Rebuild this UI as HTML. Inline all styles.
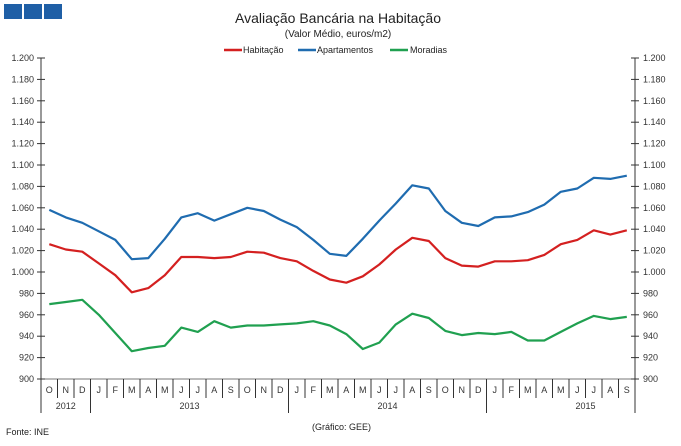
<!DOCTYPE html>
<html><head><meta charset="utf-8"><style>
body{margin:0;background:#fff;width:681px;height:446px;overflow:hidden}
svg{display:block;font-family:"Liberation Sans",sans-serif}
</style></head><body>
<svg id="s" width="681" height="446" viewBox="0 0 681 446">
<rect x="4" y="4" width="18" height="15" fill="#1f5fa6"/>
<rect x="24" y="4" width="18" height="15" fill="#1f5fa6"/>
<rect x="44" y="4" width="18" height="15" fill="#1f5fa6"/>
<text x="338" y="23" font-size="14" text-anchor="middle" fill="#222">Avaliação Bancária na Habitação</text>
<text x="338" y="37" font-size="10" text-anchor="middle" fill="#222">(Valor Médio, euros/m2)</text>
<line x1="224" y1="50" x2="242" y2="50" stroke="#d42020" stroke-width="2.5"/>
<text x="243" y="53" font-size="9" fill="#222">Habitação</text>
<line x1="298" y1="50" x2="316" y2="50" stroke="#1f6cb0" stroke-width="2.5"/>
<text x="317" y="53" font-size="9" fill="#222">Apartamentos</text>
<line x1="390" y1="50" x2="408" y2="50" stroke="#20a050" stroke-width="2.5"/>
<text x="410" y="53" font-size="9" fill="#222">Moradias</text>
<text x="6" y="435" font-size="9" fill="#222">Fonte: INE</text>
<text x="312" y="430" font-size="9" fill="#222">(Gráfico: GEE)</text>
<g id="g"></g>
</svg>
<script>
var g=document.getElementById('g'),h='';
var L=41,R=635,T=58,B=379,mw=(R-L)/36;
function Y(v){return B-(v-900)*(B-T)/300;}
h+='<line x1="'+L+'" y1="'+T+'" x2="'+L+'" y2="'+B+'" stroke="#333"/>';
h+='<line x1="'+R+'" y1="'+T+'" x2="'+R+'" y2="'+B+'" stroke="#333"/>';
h+='<line x1="'+L+'" y1="'+B+'" x2="'+R+'" y2="'+B+'" stroke="#777"/>';
for(var v=900;v<=1200;v+=20){var y=Y(v);var s=v>=1000?('1.'+String(v-1000).padStart(3,'0')):String(v);
h+='<line x1="'+(L-4)+'" y1="'+y+'" x2="'+(L+4)+'" y2="'+y+'" stroke="#333"/>';
h+='<line x1="'+(R-4)+'" y1="'+y+'" x2="'+(R+4)+'" y2="'+y+'" stroke="#333"/>';
h+='<text x="'+(L-7)+'" y="'+(y+3)+'" font-size="9" text-anchor="end" fill="#333">'+s+'</text>';
h+='<text x="'+(R+8)+'" y="'+(y+3)+'" font-size="9" fill="#333">'+s+'</text>';}
var M="ONDJFMAMJJASONDJFMAMJJASONDJFMAMJJAS";
for(var i=0;i<36;i++){var x=L+mw*(i+0.5);h+='<text x="'+x+'" y="393" font-size="9" text-anchor="middle" fill="#333">'+M[i]+'</text>';
if(i>0){var yb=(i==3||i==15||i==27)?413:398;h+='<line x1="'+(L+mw*i)+'" y1="'+B+'" x2="'+(L+mw*i)+'" y2="'+yb+'" stroke="#333"/>';}}
h+='<line x1="'+L+'" y1="'+B+'" x2="'+L+'" y2="413" stroke="#333"/><line x1="'+R+'" y1="'+B+'" x2="'+R+'" y2="413" stroke="#333"/>';
[['2012',1.5],['2013',9],['2014',21],['2015',33]].forEach(function(a){h+='<text x="'+(L+mw*a[1])+'" y="409" font-size="9" text-anchor="middle" fill="#333">'+a[0]+'</text>';});
var D={'#d42020':[1026,1021,1019,1008,997,981,985,997,1014,1014,1013,1014,1019,1018,1013,1010,1001,993,990,996,1007,1021,1032,1029,1013,1006,1005,1010,1010,1011,1016,1026,1030,1039,1035,1039],
'#1f6cb0':[1058,1051,1046,1038,1030,1012,1013,1031,1051,1055,1048,1054,1060,1057,1049,1042,1030,1017,1015,1031,1048,1064,1081,1078,1057,1046,1043,1051,1052,1056,1063,1075,1078,1088,1087,1090],
'#20a050':[970,972,974,960,943,926,929,931,948,944,954,948,950,950,951,952,954,950,942,928,934,951,961,957,945,941,943,942,944,936,936,944,952,959,956,958]};
for(var c in D){var p=D[c].map(function(v,i){return (L+mw*(i+0.5)).toFixed(1)+','+Y(v).toFixed(1)}).join(' ');
h+='<polyline points="'+p+'" fill="none" stroke="'+c+'" stroke-width="2.2" stroke-linejoin="round"/>';}
g.innerHTML=h;
</script>
</body></html>
